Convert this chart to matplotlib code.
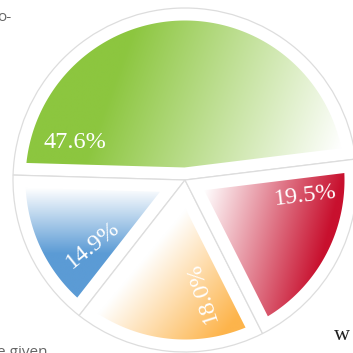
import numpy as np
import matplotlib.pyplot as plt
from matplotlib.path import Path
from matplotlib.patches import PathPatch

# slice data (counter-clockwise from the right side)
labels = ['47.6%', '14.9%', '18.0%', '19.5%']
shares = [47.6, 14.9, 18.0, 19.5]
colors = ['#8cc63f', '#5b9bd5', '#fdb44b', '#c8102e']

# gradient direction (deg, from full colour towards white) and ramp limits
grad_dir = [-20, 90, 140, 165]
grad_lim = [(0.2, 1.0), (0.4, 1.0), (0.1, 0.95), (0.05, 1.0)]

# label placement in pixels (x, y from top) and rotation
lab_pos = [(75, 143), (93, 245), (202, 292), (305, 196)]
lab_rot = [0, 39, 108, 7]

W = 353
R = 172.0          # outline radius in px
cx, cy = 185, 180  # pie centre in px
gap = 12.5 / R     # white margin inside each slice

fig = plt.figure(figsize=(3.53, 3.53), dpi=100)
ax = fig.add_axes([0, 0, 1, 1])

wedges, _ = ax.pie(shares, startangle=7, counterclock=True, radius=1,
                   wedgeprops=dict(facecolor='white', edgecolor='#dddddd',
                                   linewidth=0.9))

ax.set_xlim(-cx / R, (W - cx) / R)
ax.set_ylim(-(W - cy) / R, cy / R)
ax.axis('off')

# grid for the gradient images
xs = np.linspace(-cx / R, (W - cx) / R, 500)
ys = np.linspace(-(W - cy) / R, cy / R, 500)
X, Y = np.meshgrid(xs, ys)


def inset_path(w, g):
    t1, t2 = np.radians(w.theta1), np.radians(w.theta2)
    half = (t2 - t1) / 2
    b = t1 + half
    d = g / np.sin(half)
    apex = np.array([d * np.cos(b), d * np.sin(b)])
    rho = 1 - g
    angs = []
    for t in (t1, t2):
        u = np.array([np.cos(t), np.sin(t)])
        au = apex @ u
        s = -au + np.sqrt(au ** 2 - apex @ apex + rho ** 2)
        p = apex + s * u
        angs.append(np.arctan2(p[1], p[0]))
    a1, a2 = angs
    if a2 < a1:
        a2 += 2 * np.pi
    arc = np.linspace(a1, a2, 120)
    verts = [apex] + [(rho * np.cos(a), rho * np.sin(a)) for a in arc] + [apex]
    return Path(np.array(verts), closed=True)


for i, w in enumerate(wedges):
    path = inset_path(w, gap)
    v = path.vertices
    phi = np.radians(grad_dir[i])
    u = np.array([np.cos(phi), np.sin(phi)])
    proj = v @ u
    t = (X * u[0] + Y * u[1] - proj.min()) / (proj.max() - proj.min())
    lo, hi = grad_lim[i]
    f = np.clip((t - lo) / (hi - lo), 0, 1)[..., None]
    c = np.array(plt.matplotlib.colors.to_rgb(colors[i]))
    img = c * (1 - f) + np.ones(3) * f
    patch = PathPatch(path, facecolor='none', edgecolor='none')
    ax.add_patch(patch)
    im = ax.imshow(img, extent=(xs[0], xs[-1], ys[0], ys[-1]), origin='lower',
                   interpolation='bilinear', zorder=2)
    im.set_clip_path(patch)

for lab, (px, py), rot in zip(labels, lab_pos, lab_rot):
    ax.text((px - cx) / R, (cy - py) / R, lab, color='white', fontsize=17.5,
            family='Liberation Serif', ha='center', va='center',
            rotation=rot, rotation_mode='anchor', zorder=3)

# fragments of the surrounding page text
fig.text(-3 / W, 1 - 21 / W, 'o-', color='#666666', fontsize=11,
         family='Open Sans', ha='left', va='baseline')
fig.text(-3 / W, 1 - 356 / W, 'e given', color='#666666', fontsize=11,
         family='Open Sans', ha='left', va='baseline')
fig.text(334 / W, 1 - 340 / W, 'w', color='#222222', fontsize=16,
         family='Liberation Serif', ha='left', va='baseline')

ax.set_xlim(-cx / R, (W - cx) / R)
ax.set_ylim(-(W - cy) / R, cy / R)

fig.savefig('out.png', dpi=100)
